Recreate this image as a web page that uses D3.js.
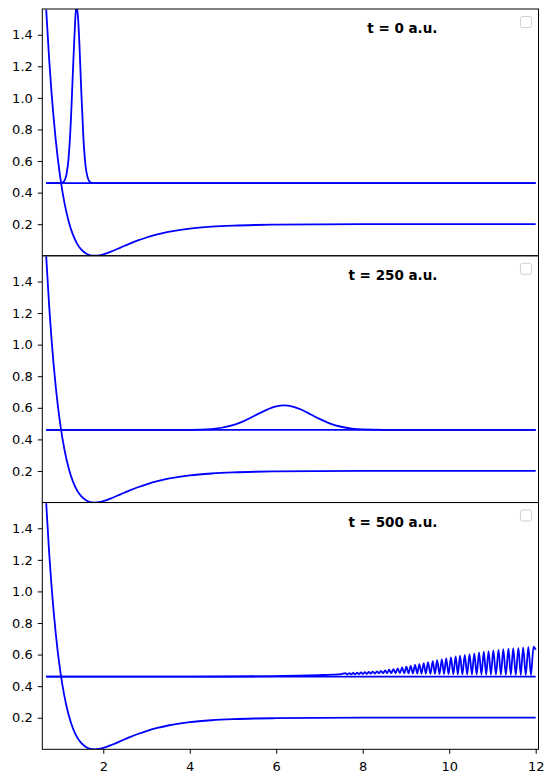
<!DOCTYPE html>
<html>
<head>
<meta charset="utf-8">
<title>wave packet snapshots</title>
<script src="https://d3js.org/d3.v7.min.js"></script>
<style>
  body { margin: 0; background: #fff; }
  svg { display: block; font-family: "DejaVu Sans", sans-serif; }
</style>
</head>
<body>
<svg width="553" height="782"></svg>
<script>
// panel labels
var times = ["t = 0 a.u.", "t = 250 a.u.", "t = 500 a.u."];
var xTicks = [2, 4, 6, 8, 10, 12];
var yTicks = [0.2, 0.4, 0.6, 0.8, 1.0, 1.2, 1.4];

// potential curve (same in every panel)
var potential = [
  [0.68, 1.559], [0.75, 1.239], [0.80, 1.046], [0.85, 0.880], [0.90, 0.736],
  [1.00, 0.506], [1.10, 0.338], [1.20, 0.217], [1.30, 0.132], [1.40, 0.074],
  [1.50, 0.037], [1.60, 0.0145], [1.70, 0.0032], [1.80, 0.0], [1.90, 0.0025],
  [2.00, 0.009], [2.20, 0.0287], [2.40, 0.052], [2.60, 0.0754], [2.80, 0.0969],
  [3.00, 0.1156], [3.25, 0.135], [3.50, 0.1507], [3.75, 0.1626], [4.00, 0.172],
  [4.50, 0.184], [5.00, 0.191], [5.50, 0.195], [6.00, 0.197], [7.00, 0.199],
  [8.00, 0.2], [12.00, 0.2]
];

// energy level
var energy = [[0.68, 0.46], [12.0, 0.46]];

// |psi|^2 offset by the energy, t = 0
var psi0 = [
  [0.68, 0.46], [1.00, 0.4605], [1.05, 0.463], [1.10, 0.474], [1.15, 0.515],
  [1.20, 0.625], [1.25, 0.85], [1.30, 1.18], [1.34, 1.43], [1.375, 1.58],
  [1.41, 1.53], [1.45, 1.33], [1.49, 1.05], [1.54, 0.75], [1.59, 0.57],
  [1.64, 0.495], [1.69, 0.468], [1.74, 0.462], [1.80, 0.46], [12.0, 0.46]
];

// t = 250
var psi250 = [
  [0.68, 0.46], [4.00, 0.4606], [4.50, 0.4655], [5.00, 0.490], [5.25, 0.516],
  [5.50, 0.550], [5.75, 0.584], [6.00, 0.609], [6.18, 0.615], [6.40, 0.606],
  [6.60, 0.586], [6.80, 0.558], [7.00, 0.530], [7.25, 0.500], [7.50, 0.480],
  [7.75, 0.468], [8.00, 0.463], [8.50, 0.4605], [12.0, 0.46]
];

// t = 500
var psi500 = [
  [0.68, 0.46], [4.00, 0.46], [5.00, 0.461], [6.00, 0.464], [6.50, 0.466],
  [7.00, 0.470], [7.30, 0.473], [7.50, 0.476],
  [7.60, 0.482], [7.645, 0.474], [7.69, 0.483], [7.735, 0.475], [7.78, 0.484], [7.825, 0.475],
  [7.87, 0.485], [7.915, 0.476], [7.96, 0.487], [8.005, 0.477], [8.05, 0.489], [8.095, 0.478],
  [8.14, 0.490], [8.185, 0.479], [8.23, 0.492], [8.28, 0.480], [8.33, 0.494], [8.375, 0.481],
  [8.42, 0.497], [8.47, 0.482], [8.52, 0.500], [8.565, 0.482], [8.61, 0.504], [8.66, 0.482],
  [8.71, 0.508], [8.76, 0.482], [8.81, 0.513], [8.86, 0.482], [8.91, 0.518], [8.96, 0.481],
  [9.01, 0.523], [9.06, 0.481], [9.11, 0.529], [9.16, 0.480], [9.21, 0.535], [9.26, 0.480],
  [9.31, 0.540], [9.36, 0.479], [9.41, 0.546], [9.46, 0.479], [9.51, 0.552], [9.565, 0.478],
  [9.62, 0.558], [9.67, 0.478], [9.72, 0.564], [9.775, 0.477], [9.83, 0.570], [9.88, 0.477],
  [9.93, 0.576], [9.985, 0.476], [10.04, 0.582], [10.095, 0.476], [10.15, 0.588], [10.20, 0.475],
  [10.25, 0.593], [10.305, 0.475], [10.36, 0.598], [10.415, 0.475], [10.47, 0.603], [10.525, 0.474],
  [10.58, 0.608], [10.635, 0.474], [10.69, 0.613], [10.745, 0.474], [10.80, 0.618], [10.855, 0.473],
  [10.91, 0.622], [10.965, 0.473], [11.02, 0.626], [11.08, 0.473], [11.14, 0.630], [11.195, 0.472],
  [11.25, 0.634], [11.31, 0.472], [11.37, 0.637], [11.425, 0.472], [11.48, 0.640], [11.54, 0.471],
  [11.60, 0.643], [11.655, 0.471], [11.71, 0.646], [11.77, 0.470], [11.83, 0.648], [11.89, 0.470],
  [11.95, 0.650], [12.0, 0.63]
];

var waves = [psi0, psi250, psi500];

var padL = 42.3, padR = 538.5, padT = 9, padB = 749.3;
var ph = (padB - padT) / 3;
var blue = "#0000ff";
var tickFont = 13;

var svg = d3.select("svg");

var x = d3.scaleLinear().domain([0.59, 12.065]).range([padL, padR]);

var line = d3.line()
  .x(function(d) { return x(d[0]); })
  .curve(d3.curveMonotoneX);

for (var i = 0; i < 3; i++) {
  var y0 = padT + i * ph;
  var y = d3.scaleLinear().domain([0, 1.563]).range([y0 + ph, y0]);
  line.y(function(d) { return y(d[1]); });

  var g = svg.append("g");
  var clipId = "clip" + i;
  g.append("clipPath").attr("id", clipId)
    .append("rect")
    .attr("x", padL).attr("y", y0)
    .attr("width", padR - padL).attr("height", ph);

  var plot = g.append("g").attr("clip-path", "url(#" + clipId + ")");
  [potential, energy, waves[i]].forEach(function(s) {
    plot.append("path")
      .datum(s)
      .attr("d", line)
      .attr("fill", "none")
      .attr("stroke", blue)
      .attr("stroke-width", 1.8);
  });

  // y axis
  var ya = g.append("g")
    .attr("transform", "translate(" + padL + ",0)")
    .call(d3.axisLeft(y).tickValues(yTicks).tickFormat(d3.format(".1f"))
      .tickSize(4.5).tickPadding(5));
  ya.attr("font-size", tickFont).attr("font-family", "DejaVu Sans, sans-serif");
  ya.select(".domain").remove();
  ya.selectAll("line").attr("stroke", "#000").attr("stroke-width", 1);
  ya.selectAll("text").attr("fill", "#000");

  // frame
  g.append("rect")
    .attr("x", padL).attr("y", y0)
    .attr("width", padR - padL).attr("height", ph)
    .attr("fill", "none").attr("stroke", "#000").attr("stroke-width", 1);

  // time label
  g.append("text")
    .attr("x", 437.5).attr("y", y0 + 24)
    .attr("text-anchor", "end")
    .attr("font-weight", "bold")
    .attr("font-size", 13.5)
    .text(times[i]);

  // empty legend box
  g.append("rect")
    .attr("x", 520.5).attr("y", y0 + 7.5)
    .attr("width", 11).attr("height", 11)
    .attr("rx", 2)
    .attr("fill", "#fff").attr("fill-opacity", 0.8)
    .attr("stroke", "#d0d0d0").attr("stroke-width", 1);
}

// x axis on the bottom panel
var xa = svg.append("g")
  .attr("transform", "translate(0," + padB + ")")
  .call(d3.axisBottom(x).tickValues(xTicks).tickFormat(d3.format("d"))
    .tickSize(4.5).tickPadding(8));
xa.attr("font-size", tickFont).attr("font-family", "DejaVu Sans, sans-serif");
xa.select(".domain").remove();
xa.selectAll("line").attr("stroke", "#000").attr("stroke-width", 1);
xa.selectAll("text").attr("fill", "#000");
</script>
</body>
</html>
